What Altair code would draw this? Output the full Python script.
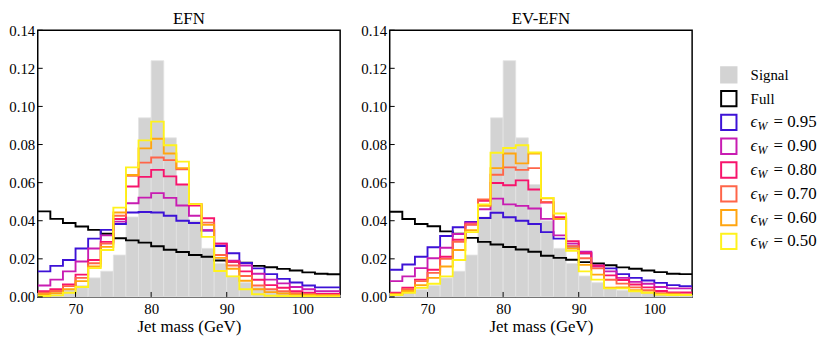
import altair as alt
import pandas as pd

FONT = "Liberation Serif"

# bin edges (GeV)
bin_edges = [65.0, 66.667, 68.333, 70.0, 71.667, 73.333, 75.0, 76.667, 78.333, 80.0,
             81.667, 83.333, 85.0, 86.667, 88.333, 90.0, 91.667, 93.333, 95.0, 96.667,
             98.333, 100.0, 101.667, 103.333, 105.0]

x_ticks = [70, 80, 90, 100]
y_ticks = [0.0, 0.02, 0.04, 0.06, 0.08, 0.10, 0.12, 0.14]

signal = [0.002, 0.003, 0.004, 0.006, 0.010, 0.0135, 0.022, 0.042, 0.094, 0.124, 0.0835, 0.059,
          0.040, 0.0255, 0.0175, 0.011, 0.0075, 0.005, 0.0035, 0.0028, 0.002, 0.002, 0.0015, 0.001]

# EFN panel
efn_full = [0.0449, 0.041, 0.0388, 0.037, 0.0352, 0.0332, 0.0308, 0.0297, 0.0285, 0.0266, 0.0248, 0.0236,
            0.022, 0.0211, 0.0191, 0.0186, 0.018, 0.0163, 0.0156, 0.0147, 0.0139, 0.0129, 0.0122, 0.0119]
efn_095 = [0.0134, 0.0163, 0.0194, 0.0254, 0.0306, 0.0352, 0.0383, 0.0443, 0.0446, 0.0443, 0.0426, 0.040,
           0.0388, 0.0349, 0.0267, 0.0229, 0.0178, 0.015, 0.012, 0.0095, 0.0076, 0.006, 0.005, 0.005]
efn_090 = [0.006, 0.0091, 0.0134, 0.0186, 0.0254, 0.0323, 0.0395, 0.0492, 0.0521, 0.0545, 0.052, 0.048,
           0.0426, 0.035, 0.028, 0.019, 0.0165, 0.0122, 0.0091, 0.0071, 0.0052, 0.004, 0.003, 0.003]
efn_080 = [0.003, 0.004, 0.0065, 0.0117, 0.0194, 0.0289, 0.0409, 0.058, 0.063, 0.0667, 0.0633, 0.059,
           0.048, 0.0413, 0.028, 0.0185, 0.0134, 0.009, 0.0062, 0.0048, 0.003, 0.0022, 0.0016, 0.0016]
efn_070 = [0.0022, 0.0031, 0.0057, 0.010, 0.0177, 0.028, 0.0426, 0.0636, 0.0705, 0.0732, 0.0718, 0.067,
           0.0487, 0.039, 0.022, 0.0165, 0.011, 0.006, 0.004, 0.003, 0.002, 0.0015, 0.001, 0.001]
efn_060 = [0.0014, 0.002, 0.004, 0.0083, 0.016, 0.0263, 0.0443, 0.064, 0.078, 0.083, 0.0753, 0.0676,
           0.0487, 0.0378, 0.0205, 0.0148, 0.0085, 0.004, 0.0025, 0.0018, 0.0012, 0.001, 0.0008, 0.0008]
efn_050 = [0.0005, 0.0008, 0.0022, 0.0052, 0.0151, 0.0246, 0.0469, 0.068, 0.0822, 0.092, 0.0796, 0.071,
           0.0487, 0.0315, 0.0136, 0.0108, 0.004, 0.0014, 0.0006, 0.0005, 0.0004, 0.0004, 0.0003, 0.0003]

# EV-EFN panel
ev_full = [0.0447, 0.0409, 0.0383, 0.0371, 0.0344, 0.0332, 0.031, 0.0289, 0.0275, 0.0262, 0.0249, 0.0237,
           0.0216, 0.0205, 0.0195, 0.0183, 0.0176, 0.0166, 0.0155, 0.0148, 0.0139, 0.013, 0.0122, 0.012]
ev_095 = [0.0143, 0.017, 0.0211, 0.0261, 0.032, 0.0366, 0.0393, 0.0414, 0.0442, 0.0418, 0.040, 0.0383,
          0.034, 0.0306, 0.0265, 0.0229, 0.0165, 0.015, 0.012, 0.010, 0.0086, 0.0074, 0.0062, 0.0057]
ev_090 = [0.0083, 0.0108, 0.0151, 0.0203, 0.0258, 0.033, 0.039, 0.046, 0.0516, 0.0486, 0.0478, 0.0464,
          0.041, 0.0323, 0.028, 0.0237, 0.016, 0.0134, 0.010, 0.0079, 0.0069, 0.0052, 0.0045, 0.0045]
ev_080 = [0.0022, 0.0048, 0.0091, 0.0143, 0.0211, 0.030, 0.038, 0.0504, 0.0598, 0.0586, 0.0612, 0.0564,
          0.0495, 0.0418, 0.0292, 0.0229, 0.0165, 0.0113, 0.0089, 0.0065, 0.005, 0.0031, 0.0024, 0.0024]
ev_070 = [0.0017, 0.004, 0.0083, 0.0126, 0.020, 0.029, 0.038, 0.0512, 0.0641, 0.068, 0.0667, 0.0676,
          0.0499, 0.041, 0.0266, 0.0203, 0.015, 0.009, 0.007, 0.005, 0.0035, 0.002, 0.0018, 0.0015]
ev_060 = [0.0014, 0.0031, 0.0062, 0.010, 0.016, 0.0246, 0.035, 0.0478, 0.0676, 0.0753, 0.0701, 0.0753,
          0.0518, 0.041, 0.0254, 0.0168, 0.0117, 0.0048, 0.005, 0.0036, 0.0024, 0.0014, 0.0014, 0.001]
ev_050 = [0.001, 0.0022, 0.0048, 0.0069, 0.0108, 0.0194, 0.034, 0.0486, 0.0757, 0.0782, 0.0796, 0.0758,
          0.052, 0.0438, 0.0242, 0.0134, 0.0091, 0.0045, 0.0045, 0.003, 0.0022, 0.0012, 0.001, 0.001]

panel_titles = ["EFN", "EV-EFN"]
legend_names = ["Signal", "Full", "0.95", "0.90", "0.80", "0.70", "0.60", "0.50"]
line_colors = ["#000000", "#3d12d6", "#c81cb2", "#f7146c", "#ff6549", "#ffa510", "#fff21c"]
signal_color = "#d3d3d3"

W, H = 305, 269
xscale = alt.Scale(domain=[65, 105], nice=False, zero=False)
yscale = alt.Scale(domain=[0, 0.14], nice=False)

xaxis = alt.Axis(values=x_ticks, tickSize=0, grid=False, domain=False, title="Jet mass (GeV)",
                 labelFontSize=15, titleFontSize=17, labelPadding=5, titlePadding=2,
                 labelFont=FONT, titleFont=FONT, titleFontWeight="normal", labelColor="black", titleColor="black")
yaxis = alt.Axis(values=y_ticks, format=".2f", tickSize=0, grid=False, domain=False, title=None,
                 labelFontSize=15, labelPadding=3, labelFont=FONT, labelColor="black")


def panel(title, series):
    sig_df = pd.DataFrame({"x0": bin_edges[:-1], "x1": bin_edges[1:], "v": signal, "z": [0.0] * len(signal)})
    sig = alt.Chart(sig_df).mark_rect(fill=signal_color, stroke="#e3e3e3", strokeWidth=0.8).encode(
        x=alt.X("x0:Q", scale=xscale, axis=xaxis), x2="x1:Q",
        y=alt.Y("v:Q", scale=yscale, axis=yaxis), y2="z:Q")
    layers = [sig]
    for vals, col in zip(series, line_colors):
        df = pd.DataFrame({"x": bin_edges, "v": vals + [vals[-1]]})
        layers.append(alt.Chart(df).mark_line(interpolate="step-after", color=col, strokeWidth=1.9, clip=True).encode(
            x=alt.X("x:Q", scale=xscale, axis=xaxis), y=alt.Y("v:Q", scale=yscale, axis=yaxis)))
    xt = alt.Chart(pd.DataFrame({"t": x_ticks})).mark_rule(color="black", strokeWidth=1).encode(
        x=alt.X("t:Q", scale=xscale, axis=xaxis), y=alt.value(H), y2=alt.value(H - 5))
    yt = alt.Chart(pd.DataFrame({"t": y_ticks})).mark_rule(color="black", strokeWidth=1).encode(
        y=alt.Y("t:Q", scale=yscale, axis=yaxis), x=alt.value(0), x2=alt.value(5))
    ttl = alt.Chart(pd.DataFrame({"t": [title]})).mark_text(
        font=FONT, fontSize=17, color="black", align="center", baseline="middle").encode(
        text="t:N", x=alt.value(W / 2), y=alt.value(-11))
    layers += [xt, yt, ttl]
    return alt.layer(*layers).properties(width=W, height=H)


left = panel(panel_titles[0], [efn_full, efn_095, efn_090, efn_080, efn_070, efn_060, efn_050])
right = panel(panel_titles[1], [ev_full, ev_095, ev_090, ev_080, ev_070, ev_060, ev_050])

# custom legend
legscale = alt.Scale(domain=[-1.875, 9.333], reverse=True)
leg_df = pd.DataFrame({
    "row": list(range(len(legend_names))),
    "name": legend_names,
    "fill": [signal_color] + ["white"] * 7,
    "stroke": [signal_color] + line_colors,
    "plain": ["Signal", "Full", "", "", "", "", "", ""],
    "eps": ["", "", "ϵ", "ϵ", "ϵ", "ϵ", "ϵ", "ϵ"],
    "sub": ["", "", "W", "W", "W", "W", "W", "W"],
    "val": ["", ""] + ["= " + n for n in legend_names[2:]],
})
yleg = alt.Y("row:Q", scale=legscale, axis=None)
base = alt.Chart(leg_df)
squares = base.mark_square(size=240, strokeWidth=2, opacity=1).encode(
    x=alt.value(16), y=yleg,
    fill=alt.Fill("fill:N", scale=None), stroke=alt.Stroke("stroke:N", scale=None))
t_plain = base.mark_text(align="left", baseline="middle", font=FONT, fontSize=15, color="black").encode(
    x=alt.value(38), y=yleg, text="plain:N")
t_eps = base.mark_text(align="left", baseline="middle", font=FONT, fontSize=17, fontStyle="italic", color="black").encode(
    x=alt.value(38), y=yleg, text="eps:N")
t_sub = base.mark_text(align="left", baseline="middle", font=FONT, fontSize=12, fontStyle="italic", color="black", dy=4).encode(
    x=alt.value(45), y=yleg, text="sub:N")
t_val = base.mark_text(align="left", baseline="middle", font=FONT, fontSize=17, color="black").encode(
    x=alt.value(61), y=yleg, text="val:N")
legend = alt.layer(squares, t_plain, t_eps, t_sub, t_val).properties(
    width=110, height=H, view=alt.ViewBackground(stroke="transparent"))

chart = alt.hconcat(left, right, legend, spacing=18).configure_view(
    stroke="black", strokeWidth=1.5).properties(padding=0, background="white")

chart.save("out.html", embed_options={"renderer": "svg", "actions": False})
